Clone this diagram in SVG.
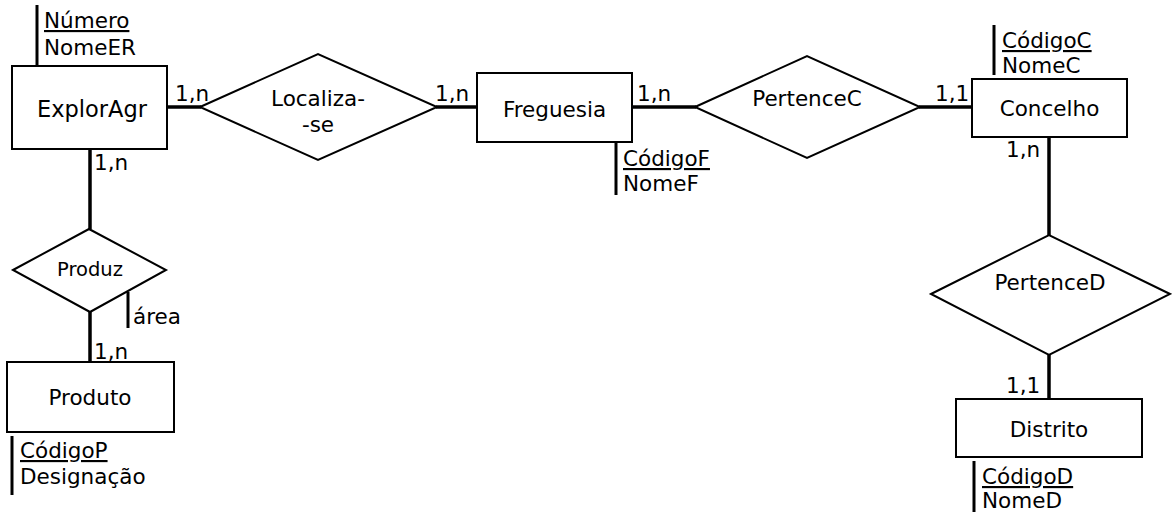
<svg xmlns="http://www.w3.org/2000/svg" width="1172" height="513" viewBox="0 0 1172 513">
<style>
text{font-family:"DejaVu Sans",Verdana,sans-serif;font-size:21.5px;fill:#000}
.c{text-anchor:middle}
.u{text-decoration:underline}
.box{fill:#fff;stroke:#000;stroke-width:2}
.dia{fill:#fff;stroke:#000;stroke-width:2}
.ln{stroke:#000;stroke-width:3.5;fill:none}
.at{stroke:#000;stroke-width:3;fill:none}
</style>
<rect width="1172" height="513" fill="#fff"/>
<g id="connectors">
<line class="ln" x1="167" y1="107" x2="201" y2="107"/>
<line class="ln" x1="436" y1="107" x2="477" y2="107"/>
<line class="ln" x1="632" y1="107" x2="696" y2="107"/>
<line class="ln" x1="919" y1="107" x2="972" y2="107"/>
<line class="ln" x1="1049" y1="137" x2="1049" y2="235"/>
<line class="ln" x1="1049" y1="355" x2="1049" y2="399"/>
<line class="ln" x1="90" y1="149" x2="90" y2="229"/>
<line class="ln" x1="90" y1="312" x2="90" y2="362"/>
<text x="175" y="101">1,n</text>
<text x="435" y="101">1,n</text>
<text x="637" y="101">1,n</text>
<text x="935" y="101">1,1</text>
<text x="1006" y="157">1,n</text>
<text x="1006" y="393">1,1</text>
<text x="94" y="170">1,n</text>
<text x="94" y="359">1,n</text>
</g>
<g id="ExplorAgr">
<rect class="box" x="12" y="66" width="155" height="83"/>
<text class="c" x="92" y="117" style="font-size:22.5px">ExplorAgr</text>
<line class="at" x1="37" y1="5" x2="37" y2="66"/>
<text class="u" x="44" y="28">Número</text>
<text x="44" y="55">NomeER</text>
</g>
<g id="Localiza-se">
<polygon class="dia" points="200,107 318,54 437,107 318,160"/>
<text class="c" x="318" y="106">Localiza-</text>
<text class="c" x="318" y="132">-se</text>
</g>
<g id="Freguesia">
<rect class="box" x="477" y="73" width="155" height="69"/>
<text class="c" x="554.5" y="117">Freguesia</text>
<line class="at" x1="616" y1="142" x2="616" y2="195"/>
<text class="u" x="623" y="166">CódigoF</text>
<text x="623" y="191">NomeF</text>
</g>
<g id="PertenceC">
<polygon class="dia" points="695,107 807,56 920,107 807,158"/>
<text class="c" x="807" y="106">PertenceC</text>
</g>
<g id="Concelho">
<rect class="box" x="972" y="79" width="155" height="58"/>
<text class="c" x="1049.5" y="116">Concelho</text>
<line class="at" x1="994" y1="25" x2="994" y2="75"/>
<text class="u" x="1002" y="48">CódigoC</text>
<text x="1002" y="73">NomeC</text>
</g>
<g id="PertenceD">
<polygon class="dia" points="931,294 1049,235 1170,294 1049,355"/>
<text class="c" x="1050" y="290">PertenceD</text>
</g>
<g id="Distrito">
<rect class="box" x="956" y="399" width="186" height="58"/>
<text class="c" x="1049" y="437">Distrito</text>
<line class="at" x1="974" y1="461" x2="974" y2="512"/>
<text class="u" x="982" y="484">CódigoD</text>
<text x="982" y="508">NomeD</text>
</g>
<g id="Produz">
<polygon class="dia" points="13,270 89,229 166,270 90,312"/>
<text class="c" x="90" y="276" style="font-size:19.5px">Produz</text>
<line class="at" x1="128" y1="292" x2="128" y2="328"/>
<text x="133" y="324">área</text>
</g>
<g id="Produto">
<rect class="box" x="7" y="362" width="167" height="70"/>
<text class="c" x="90" y="405">Produto</text>
<line class="at" x1="12" y1="436" x2="12" y2="495"/>
<text class="u" x="20" y="458">CódigoP</text>
<text x="20" y="484">Designação</text>
</g>
</svg>
